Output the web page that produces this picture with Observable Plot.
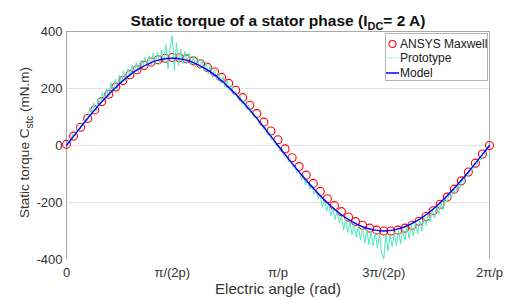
<!DOCTYPE html>
<html><head><meta charset="utf-8">
<script src="https://cdn.jsdelivr.net/npm/d3@7"></script>
<script src="https://cdn.jsdelivr.net/npm/@observablehq/plot@0.6"></script>
<style>
body{margin:0;background:#fff;font-family:"Liberation Sans",Arial,sans-serif;}
#wrap{position:relative;width:508px;height:300px;overflow:hidden;}
#legend{position:absolute;left:385px;top:33px;width:101px;height:46px;border:1px solid #b4b4b4;background:#fff;font-size:12px;color:#1a1a1a;}
.row{position:absolute;left:0;height:14px;display:flex;align-items:center;white-space:nowrap;}
.row svg{display:block;}
</style></head><body>
<div id="wrap"></div>
<script>
// ---- data ----
const tickValues = [0, 0.5, 1, 1.5, 2];
const tickLabels = ["0", "π/(2p)", "π/p", "3π/(2p)", "2π/p"];
const yTicks = [-400, -200, 0, 200, 400];

const seriesNames = ["ANSYS Maxwell", "Prototype", "Model"];
const seriesColors = ["#ff0000", "#4de8bd", "#0000ff"];

// ANSYS Maxwell: 61 samples over [0, 2π/p]
const maxwellTorque = [4, 33, 64, 95, 125, 154, 180, 205, 228, 248, 266, 281, 293, 301, 306, 309,
  308, 304, 297, 287, 274, 258, 239, 218, 194, 168, 141, 112, 82, 51, 20,
  -12, -43, -74, -104, -133, -161, -187, -211, -232, -251, -267, -280, -290, -297, -300,
  -300, -297, -290, -280, -266, -249, -229, -206, -181, -153, -124, -93, -62, -30, 0];

// Prototype measurement: 201 samples over [0, 2π/p]
const prototypeTorque = [
  3, 20, 14, 40, 33, 58, 50, 76, 70, 95,
  87, 134, 106, 149, 120, 166, 142, 187, 155, 199,
  171, 221, 188, 233, 198, 247, 216, 262, 226, 270,
  240, 283, 252, 291, 258, 300, 270, 310, 276, 315,
  280, 325, 288, 328, 285, 333, 293, 354, 269, 345,
  385, 262, 360, 280, 338, 286, 330, 290, 325, 284,
  315, 276, 309, 269, 301, 261, 293, 252, 283, 242,
  266, 230, 254, 218, 242, 205, 228, 191, 213, 178,
  190, 163, 175, 147, 159, 130, 142, 113, 124, 96,
  101, 76, 83, 57, 64, 39, 46, 20, 27, 1,
  -3, -20, -14, -39, -33, -58, -51, -76, -70, -95,
  -87, -120, -104, -137, -122, -154, -139, -171, -155, -187,
  -173, -217, -188, -231, -202, -247, -216, -260, -228, -272,
  -246, -297, -258, -305, -266, -314, -274, -322, -282, -330,
  -290, -343, -296, -348, -302, -352, -305, -360, -310, -378,
  -398, -312, -370, -315, -355, -305, -352, -300, -345, -296,
  -332, -285, -326, -278, -318, -270, -310, -260, -300, -252,
  -279, -237, -267, -225, -255, -212, -241, -198, -227, -184,
  -198, -167, -183, -151, -167, -134, -150, -117, -132, -100,
  -106, -81, -88, -62, -69, -44, -51, -25, -32, -6,
  -2];

// Model: 41 samples over [0, 2π/p]
const modelTorque = [0, 48, 95, 139, 180, 216, 248, 272, 291, 302, 306,
  302, 291, 272, 248, 216, 180, 139, 95, 48, 0,
  -47, -93, -136, -176, -212, -243, -267, -285, -296, -300,
  -296, -285, -267, -243, -212, -176, -136, -93, -47, 0];

// ---- tables ----
const maxwell = maxwellTorque.map((v, i) => ({angle: i * 2 / (maxwellTorque.length - 1), torque: v}));
const proto = prototypeTorque.map((v, i) => ({angle: i * 2 / (prototypeTorque.length - 1), torque: v}));
const model = modelTorque.map((v, i) => ({angle: i * 2 / (modelTorque.length - 1), torque: v}));

const FONT = '"Liberation Sans", Arial, sans-serif';
const TITLE = "Static torque of a stator phase (I";
const YTITLE = "Static torque C";

const chart = Plot.plot({
  width: 508, height: 300,
  marginTop: 31, marginBottom: 41, marginLeft: 66, marginRight: 19,
  style: {fontFamily: FONT, fontSize: "13px", color: "#333", background: "white", overflow: "visible"},
  x: {domain: [0, 2]},
  y: {domain: [-400, 400]},
  marks: [
    Plot.gridY([-200, 0, 200], {stroke: "#e2e2e2", strokeOpacity: 1}),
    Plot.ruleY([400], {stroke: "#a8a8a8"}),
    Plot.ruleX([0, 2], {stroke: "#a8a8a8"}),
    Plot.axisX(tickValues, {tickSize: 0, tickPadding: 8, fontSize: 13, label: null,
      tickFormat: d => tickLabels[tickValues.indexOf(d)]}),
    Plot.axisY(yTicks, {tickSize: 0, tickPadding: 4, fontSize: 13, label: null,
      tickFormat: d => String(d)}),
    Plot.dot(maxwell, {x: "angle", y: "torque", r: 4, stroke: seriesColors[0], strokeWidth: 1.1}),
    Plot.line(proto, {x: "angle", y: "torque", stroke: seriesColors[1], strokeWidth: 1}),
    Plot.line(model, {x: "angle", y: "torque", stroke: seriesColors[2], strokeWidth: 1.4, curve: "catmull-rom"}),
    Plot.text([TITLE], {text: d => d, frameAnchor: "top", dy: -17, textAnchor: "middle",
      fontWeight: "bold", fontSize: 15.5, fill: "#111"}),
    Plot.text(["Electric angle (rad)"], {text: d => d, frameAnchor: "bottom", dy: 34,
      fontSize: 15, fill: "#333"}),
    Plot.text([YTITLE], {text: d => d, frameAnchor: "left", dx: -42, dy: -3, rotate: -90, textAnchor: "middle",
      fontSize: 13.5, fill: "#333"})
  ]
});

const wrap = document.getElementById("wrap");
wrap.appendChild(chart);

// rich text with subscripts, re-centred after layout
function richText(content, parts) {
  const t = d3.select(chart).selectAll("text").filter(function () { return this.textContent === content; });
  if (t.empty()) return;
  t.text(null);
  parts.forEach(p => {
    const s = t.append("tspan").text(p.t);
    if (p.sub) s.attr("font-size", p.sub);
    if (p.dy) s.attr("dy", p.dy);
  });
  const node = t.node();
  const w = node.getComputedTextLength();
  t.attr("text-anchor", "start").attr("x", -w / 2);
}
richText(TITLE, [
  {t: TITLE},
  {t: "DC", sub: 11, dy: 4},
  {t: "= 2 A)", dy: -4}
]);
richText(YTITLE, [
  {t: YTITLE},
  {t: "stc", sub: 10, dy: 4},
  {t: " (mN.m)", dy: -4}
]);

// legend
const legend = document.createElement("div");
legend.id = "legend";
const rowTops = [3, 17, 32];
seriesNames.forEach((name, i) => {
  const row = document.createElement("div");
  row.className = "row";
  row.style.top = rowTops[i] + "px";
  let sw;
  if (i === 0) sw = `<svg width="13" height="14"><circle cx="6.5" cy="7" r="3.5" fill="none" stroke="${seriesColors[0]}" stroke-width="1.1"/></svg>`;
  else sw = `<svg width="13" height="14"><line x1="0" x2="13" y1="7" y2="7" stroke="${seriesColors[i]}" stroke-width="${i === 2 ? 1.5 : 1}" stroke-opacity="${i === 1 ? 0.5 : 1}"/></svg>`;
  row.innerHTML = sw + `<span style="margin-left:1px">${name}</span>`;
  legend.appendChild(row);
});
wrap.appendChild(legend);
</script>
</body></html>
